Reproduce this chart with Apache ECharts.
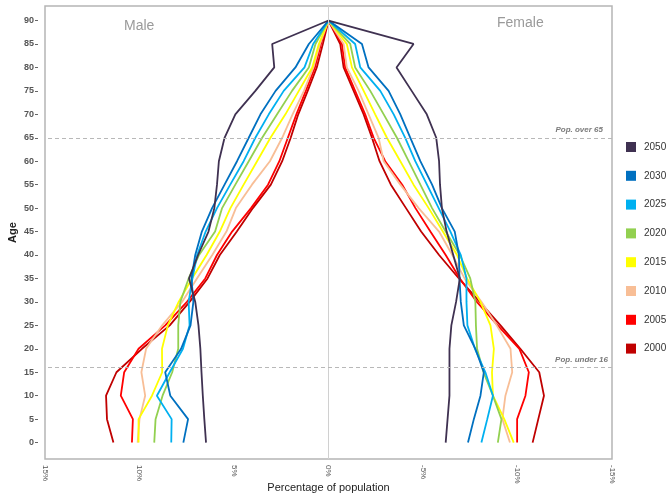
<!DOCTYPE html>
<html>
<head>
<meta charset="utf-8">
<script src="https://cdn.jsdelivr.net/npm/echarts@6/dist/echarts.min.js"></script>
<style>html,body{margin:0;padding:0;background:#fff}#c{width:667px;height:494px}</style>
</head>
<body>
<div id="c"></div>
<script>
const ages = [0,5,10,15,20,25,30,35,40,45,50,55,60,65,70,75,80,85,90];
const years = ['2050','2030','2025','2020','2015','2010','2005','2000'];
const colors = ['#3f3151','#0070c0','#00b0f0','#92d050','#ffff00','#f8be96','#ff0000','#c00000'];
const yTicks = [0,5,10,15,20,25,30,35,40,45,50,55,60,65,70,75,80,85,90];

// Male (% of population, plotted left)
const male2050 = [6.48,6.57,6.65,6.72,6.78,6.88,7.05,7.38,6.90,6.35,6.04,5.90,5.80,5.50,4.93,3.87,2.87,2.98,0];
const male2030 = [7.68,7.43,8.37,8.64,7.80,7.30,7.15,7.25,7.05,6.70,6.16,5.50,4.84,4.22,3.60,2.80,1.75,1.04,0];
const male2025 = [8.32,8.30,9.08,8.40,7.70,7.35,7.40,7.20,6.95,6.50,5.90,5.20,4.49,3.87,3.16,2.37,1.27,0.81,0];
const male2020 = [9.22,9.15,8.78,8.27,7.95,7.95,7.84,7.40,6.85,6.00,5.63,4.93,4.22,3.51,2.72,1.93,1.04,0.69,0];
const male2015 = [10.05,10.05,9.34,8.80,8.81,8.50,7.93,7.22,6.45,5.75,5.19,4.49,3.78,3.07,2.28,1.57,0.86,0.51,0];
const male2010 = [10.10,10.00,9.70,9.90,9.65,8.80,7.75,6.96,6.15,5.40,4.90,4.05,3.10,2.45,1.90,1.30,0.80,0.45,0];
const male2005 = [10.40,10.35,10.99,10.81,10.05,8.64,7.49,6.52,5.90,5.10,4.10,3.20,2.60,2.15,1.70,1.20,0.72,0.40,0];
const male2000 = [11.38,11.72,11.77,11.22,9.87,8.40,7.35,6.40,5.75,4.85,4.00,3.05,2.45,2.00,1.60,1.10,0.62,0.30,0];

// Female (% of population, plotted right)
const female2050 = [6.20,6.30,6.40,6.40,6.40,6.50,6.75,6.95,6.60,6.25,6.00,5.90,5.85,5.70,5.20,4.40,3.60,4.50,0];
const female2030 = [7.38,7.69,8.04,8.22,7.77,7.16,7.00,6.93,6.90,6.68,6.00,5.48,4.86,4.33,3.80,3.18,2.12,1.77,0];
const female2025 = [8.09,8.40,8.70,8.30,7.75,7.35,7.30,7.30,7.00,6.45,5.83,5.21,4.59,4.06,3.45,2.74,1.68,1.41,0];
const female2020 = [8.96,9.15,8.70,8.20,7.86,7.80,7.77,7.50,6.95,6.20,5.48,4.86,4.24,3.62,2.92,2.21,1.41,1.15,0];
const female2015 = [9.80,9.30,8.70,8.65,8.75,8.57,8.04,7.33,6.80,6.05,5.30,4.50,3.80,3.09,2.47,1.86,1.24,0.97,0];
const female2010 = [9.60,9.20,9.36,9.72,9.63,8.90,8.10,7.20,6.55,5.85,4.77,3.80,2.92,2.65,2.12,1.59,0.97,0.80,0];
const female2005 = [9.98,9.98,10.42,10.60,10.10,8.95,7.85,6.95,6.20,5.39,4.60,3.90,3.00,2.39,1.94,1.41,0.88,0.71,0];
const female2000 = [10.80,11.10,11.40,11.15,10.15,9.10,8.00,6.90,5.85,4.90,4.10,3.30,2.70,2.30,1.86,1.33,0.80,0.62,0];

const maleData = [male2050,male2030,male2025,male2020,male2015,male2010,male2005,male2000];
const femaleData = [female2050,female2030,female2025,female2020,female2015,female2010,female2005,female2000];

const series = [];
for (let i = years.length - 1; i >= 0; i--) {
  const base = {
    type: 'line', name: years[i], symbol: 'none', color: colors[i],
    lineStyle: { width: 1.8, color: colors[i] }, animation: false, z: 3
  };
  series.push(Object.assign({}, base, { data: ages.map((a, k) => [maleData[i][k], a]) }));
  series.push(Object.assign({}, base, { data: ages.map((a, k) => [-femaleData[i][k], a]) }));
}
// reference lines
series.push({
  type: 'line', data: [], silent: true, z: 1,
  markLine: {
    symbol: 'none', silent: true, animation: false,
    data: [
      { xAxis: 0, lineStyle: { type: 'solid', color: '#d0d0d0', width: 1 }, label: { show: false } },
      { yAxis: 65, lineStyle: { type: [4, 3], color: '#b8b8b8', width: 1 },
        label: { show: true, formatter: 'Pop. over 65', position: 'insideStartTop', distance: [9, 4] } },
      { yAxis: 16, lineStyle: { type: [4, 3], color: '#b8b8b8', width: 1 },
        label: { show: true, formatter: 'Pop. under 16', position: 'insideStartTop', distance: [4, 4] } }
    ],
    label: { fontStyle: 'italic', fontWeight: 'bold', fontSize: 8, color: '#7a7a7a', fontFamily: 'Liberation Sans' }
  }
});

const chart = echarts.init(document.getElementById('c'), null, { renderer: 'canvas' });
chart.setOption({
  animation: false,
  backgroundColor: '#fff',
  textStyle: { fontFamily: 'Liberation Sans' },
  grid: { left: 45, right: 55, top: 6, bottom: 35, show: true, borderColor: '#b5b5b5', borderWidth: 1.5,
    containLabel: false, outerBoundsMode: 'none' },
  legend: {
    orient: 'vertical', left: 626, top: 142, padding: 0, itemWidth: 10, itemHeight: 10, itemGap: 18.8,
    icon: 'rect', data: years,
    textStyle: { fontSize: 10, color: '#333', fontFamily: 'Liberation Sans', padding: [0, 0, 0, 3] }
  },
  xAxis: {
    type: 'value', min: -15, max: 15, interval: 5, inverse: true,
    name: 'Percentage of population', nameLocation: 'middle', nameGap: 23, nameMoveOverlap: false,
    nameTextStyle: { fontSize: 11, color: '#222' },
    axisLine: { show: false, onZero: false },
    axisTick: { show: false },
    splitLine: { show: false },
    axisLabel: { rotate: -90, fontSize: 8, color: '#555', margin: 6, formatter: v => v + '%' }
  },
  yAxis: {
    type: 'value', min: -3.5, max: 93.1, offset: 7,
    name: 'Age', nameLocation: 'middle', nameGap: 20, nameRotate: 90, nameMoveOverlap: false,
    nameTextStyle: { fontSize: 11, color: '#222', fontWeight: 'bold' },
    axisLine: { show: false, onZero: false },
    axisTick: { show: true, length: 3, lineStyle: { color: '#666' }, customValues: yTicks },
    splitLine: { show: false },
    axisLabel: { fontSize: 9, color: '#555', fontWeight: 'bold', margin: 4, customValues: yTicks }
  },
  graphic: [
    { type: 'text', left: 124, top: 19, style: { text: 'Male', fontSize: 14, fill: '#9a9a9a', fontFamily: 'Liberation Sans' } },
    { type: 'text', left: 497, top: 16, style: { text: 'Female', fontSize: 14, fill: '#9a9a9a', fontFamily: 'Liberation Sans' } }
  ],
  series: series
});
</script>
</body>
</html>
